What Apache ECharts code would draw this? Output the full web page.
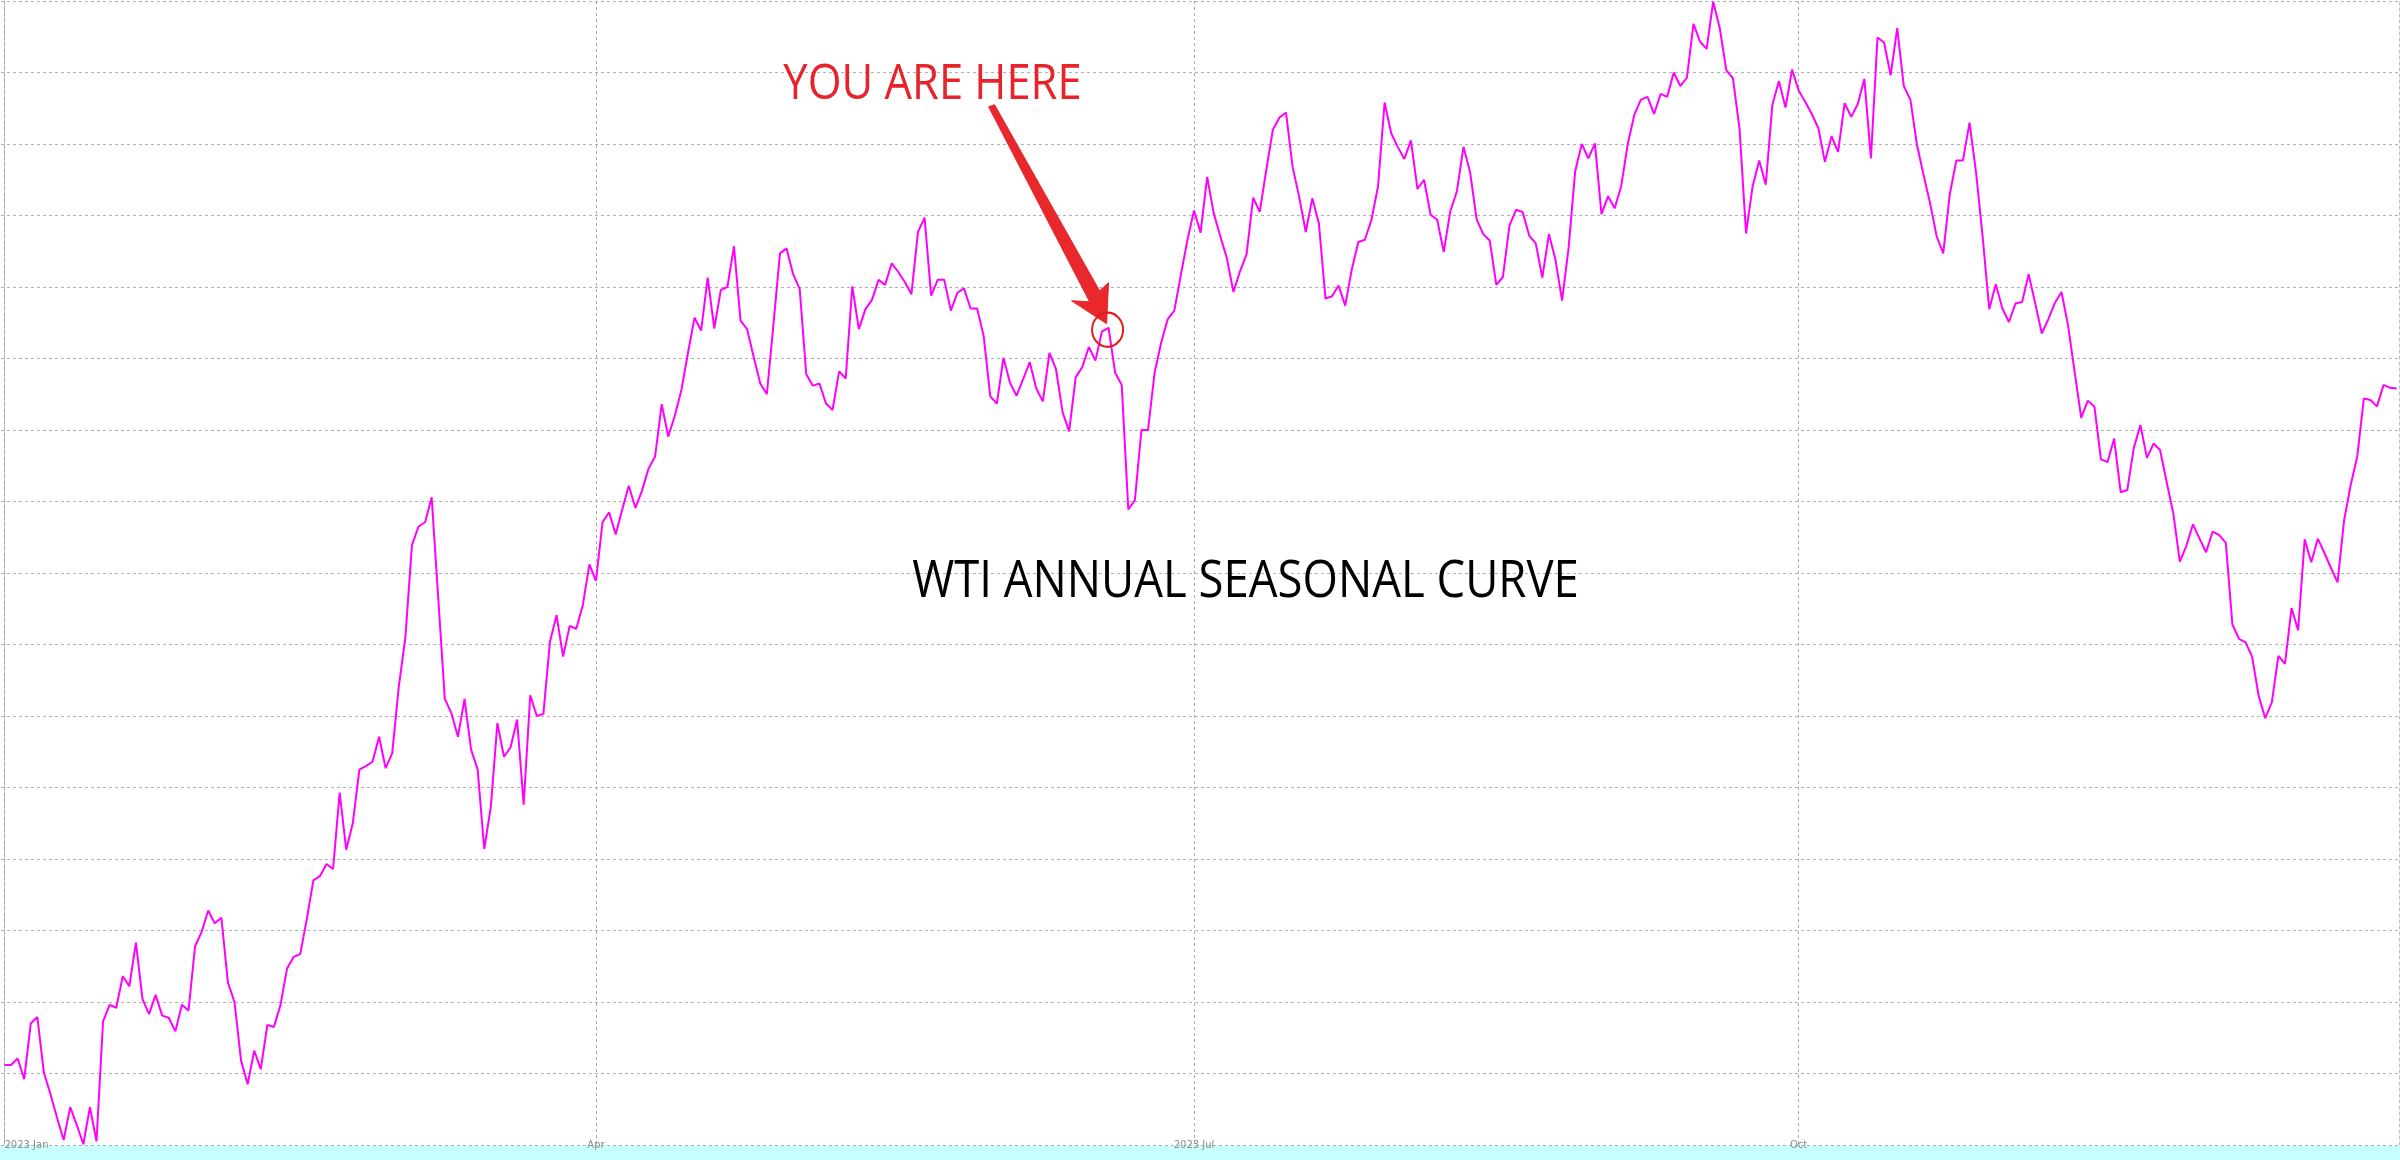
<!DOCTYPE html>
<html><head><meta charset="utf-8">
<script src="https://cdn.jsdelivr.net/npm/echarts@6/dist/echarts.min.js"></script>
<style>html,body{margin:0;padding:0;background:#fff;overflow:hidden}#c{width:2400px;height:1160px}</style>
</head><body><div id="c"></div>
<script>
// ---- data (daily seasonal index, grid units) ----
const startDate = [2023, 1, 1];
const q1Values = [1.12,1.12,1.21,0.92,1.70,1.79,1.01,0.71,0.38,0.07,
 0.53,0.28,0.01,0.53,0.05,1.73,1.96,1.92,2.36,2.22,
 2.83,2.04,1.83,2.10,1.81,1.78,1.59,1.96,1.88,2.78,
 2.98,3.28,3.10,3.18,2.27,2.00,1.18,0.85,1.32,1.06,
 1.68,1.65,1.96,2.47,2.63,2.67,3.16,3.70,3.76,3.93,
 3.86,4.93,4.13,4.50,5.25,5.30,5.36,5.71,5.27,5.48,
 6.41,7.10,8.39,8.65,8.71,9.06,7.65,6.24,6.04,5.71,
 6.24,5.53,5.25,4.14,4.73,5.90,5.43,5.56,5.95,4.76,
 6.29,6.00,6.03,7.04,7.41,6.83,7.26,7.22,7.55,8.12];
const q2Values = [7.89,8.71,8.85,8.54,8.89,9.22,8.91,9.15,9.46,9.63,
 10.36,9.91,10.20,10.56,11.08,11.57,11.39,12.13,11.42,11.96,
 12.00,12.57,11.53,11.41,11.02,10.65,10.50,11.47,12.47,12.54,
 12.18,11.97,10.78,10.62,10.65,10.37,10.28,10.82,10.72,12.01,
 11.41,11.69,11.82,12.10,12.03,12.33,12.21,12.07,11.90,12.77,
 12.97,11.88,12.10,12.10,11.67,11.92,11.98,11.70,11.70,11.31,
 10.47,10.37,11.01,10.66,10.48,10.71,10.95,10.58,10.40,11.08,
 10.85,10.25,9.98,10.74,10.88,11.16,10.97,11.38,11.43,10.80,
 10.63,8.89,9.02,10.00,10.00,10.80,11.22,11.55,11.67,12.17,
 12.66];
const q3Values = [13.07,12.76,13.54,13.03,12.71,12.40,11.93,12.22,12.46,
 13.25,13.05,13.64,14.20,14.37,14.44,13.68,13.26,12.77,13.24,
 12.89,11.84,11.87,12.02,11.74,12.24,12.63,12.66,12.94,13.41,
 14.58,14.15,13.96,13.79,14.05,13.37,13.50,13.01,12.94,12.49,
 13.06,13.34,13.96,13.61,12.95,12.74,12.65,12.03,12.14,12.86,
 13.08,13.05,12.72,12.61,12.13,12.74,12.38,11.81,12.55,13.62,
 14.00,13.80,14.01,13.02,13.27,13.10,13.41,14.00,14.41,14.62,
 14.66,14.42,14.70,14.66,15.00,14.81,14.93,15.68,15.43,15.33,
 15.99,15.62,15.03,14.92,14.22,12.75,13.41,13.77,13.43,14.55,
 14.88,14.51,15.04];
const q4Values = [14.75,14.59,14.42,14.22,13.75,14.11,13.89,
 14.57,14.38,14.56,14.91,13.80,15.49,15.42,14.96,15.62,14.81,
 14.62,13.99,13.57,13.17,12.71,12.47,13.30,13.77,13.77,14.30,
 13.60,12.70,11.69,12.04,11.70,11.51,11.77,11.79,12.18,11.77,
 11.35,11.55,11.78,11.93,11.46,10.81,10.17,10.41,10.33,9.59,
 9.55,9.88,9.13,9.16,9.75,10.07,9.61,9.81,9.72,9.27,
 8.84,8.16,8.38,8.68,8.48,8.29,8.58,8.53,8.42,7.28,
 7.08,7.03,6.83,6.28,5.97,6.19,6.84,6.73,7.51,7.20,
 8.47,8.15,8.48,8.28,8.07,7.87,8.74,9.23,9.63,10.44,
 10.42,10.33,10.63,10.59,10.58];
const tickDates = [[2023,1,1],[2023,4,1],[2023,7,1],[2023,10,1]];
const tickLabels = ['2023 Jan', 'Apr', '2023 Jul', 'Oct'];
const titleText = 'WTI ANNUAL SEASONAL CURVE';
const markerText = 'YOU ARE HERE';
const markerDate = [2023, 6, 18];

// ---- build (x = day of year, counted from startDate) ----
const DAY = 86400000;
const ts = d => Date.UTC(d[0], d[1] - 1, d[2]);
const t0 = ts(startDate);
const dayOf = d => Math.round((ts(d) - t0) / DAY);
const values = [].concat(q1Values, q2Values, q3Values, q4Values);
const seriesData = values.map((v, i) => [i, v]);
const tickDays = tickDates.map(dayOf);

const chart = echarts.init(document.getElementById('c'), null, {renderer: 'canvas'});
const dash = [3, 3];
chart.setOption({
  animation: false,
  backgroundColor: '#ffffff',
  grid: {left: 1, right: 1, top: 1, bottom: 15, containLabel: false, outerBoundsMode: 'none'},
  xAxis: {
    type: 'value', z: 3,
    min: -0.53, max: 364.35,
    axisLine: {show: false},
    axisTick: {show: false, customValues: tickDays},
    axisLabel: {
      customValues: tickDays, color: '#8c8c8c', fontSize: 10, fontFamily: 'DejaVu Sans',
      margin: -5, hideOverlap: false,
      rich: {first: {color: '#8c8c8c', fontSize: 10, fontFamily: 'DejaVu Sans', padding: [0, 0, 0, 44]}},
      formatter: function (v) {
        const i = tickDays.indexOf(Math.round(v));
        if (i < 0) return '';
        return i === 0 ? '{first|' + tickLabels[i] + '}' : tickLabels[i];
      }
    },
    splitLine: {show: true, lineStyle: {type: dash, color: '#a8a8a8', width: 1}}
  },
  yAxis: [{
    type: 'value', min: 0, max: 16, interval: 1, z: 1,
    axisLabel: {show: false}, axisTick: {show: false},
    axisLine: {show: true, lineStyle: {color: '#c4c4c4', width: 1}},
    splitLine: {show: true, lineStyle: {type: dash, color: '#b0b0b0', width: 1}}
  }, {
    type: 'value', min: 0, max: 16, interval: 1, position: 'right', z: 1,
    axisLabel: {show: false}, axisTick: {show: false},
    axisLine: {show: true, lineStyle: {color: '#c0c0c0', width: 1, type: dash}},
    splitLine: {show: false}
  }],
  series: [{
    type: 'line', data: seriesData, symbol: 'none', showSymbol: false, z: 4,
    lineStyle: {color: '#ff00ff', width: 2}, itemStyle: {color: '#ff00ff'}
  }]
});

const mi = dayOf(markerDate);
const p = chart.convertToPixel({seriesIndex: 0}, [mi, values[mi]]);
const cx = p[0] - 1, cy = p[1] + 2;
const arrowPts = [[-119, -223], [-18, -28], [-36, -29], [-1, -6], [1, -47], [-8, -39], [-113, -225]]
  .map(a => [cx + a[0], cy + a[1]]);

chart.setOption({
  graphic: [
    {type: 'rect', z: -1, silent: true, shape: {x: 0, y: 1145.5, width: 2400, height: 15}, style: {fill: '#c8ffff'}},
    {type: 'text', x: 1245.5, y: 582, scaleX: 0.875, z: 10,
     style: {text: titleText, fontSize: 52, fontFamily: 'Open Sans', fill: '#000000', align: 'center', verticalAlign: 'middle'}},
    {type: 'text', x: 932.5, y: 85, scaleX: 0.87, z: 10,
     style: {text: markerText, fontSize: 50, fontFamily: 'Open Sans', fill: '#e8232b', align: 'center', verticalAlign: 'middle'}},
    {type: 'polygon', z: 10, shape: {points: arrowPts}, style: {fill: '#e8282c', stroke: '#e8282c', lineWidth: 1}},
    {type: 'circle', x: cx, y: cy, scaleY: 1.1, z: 10, shape: {cx: 0, cy: 0, r: 15.5},
     style: {fill: 'none', stroke: '#e0201c', lineWidth: 2, strokeNoScale: true}}
  ]
});
</script>
</body></html>
